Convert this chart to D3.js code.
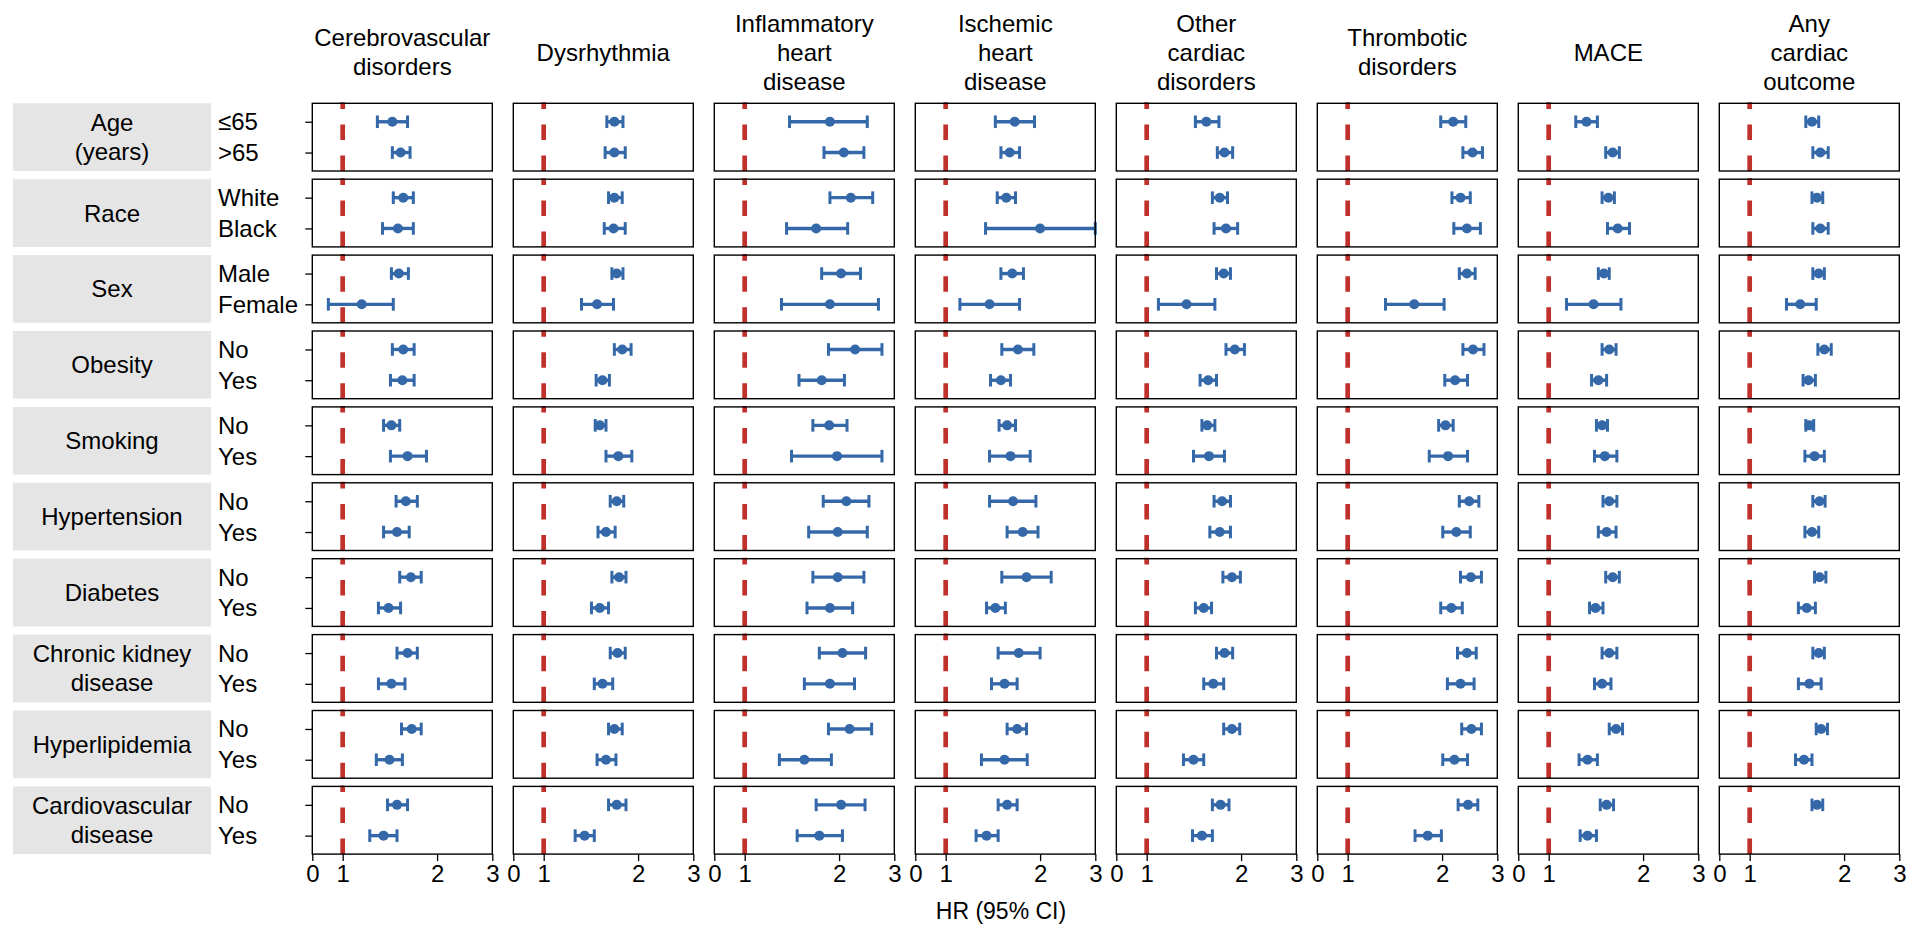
<!DOCTYPE html>
<html>
<head>
<meta charset="utf-8">
<script src="https://cdn.jsdelivr.net/npm/d3@7"></script>
<style>
  body { margin: 0; background: #fff; }
  svg text { font-family: "Liberation Sans", Arial, sans-serif; fill: #000; }
</style>
</head>
<body>
<svg id="chart"></svg>
<script>
// outcomes (columns), title lines
const outcomes = ["Cerebrovascular disorders", "Dysrhythmia", "Inflammatory heart disease", "Ischemic heart disease",
  "Other cardiac disorders", "Thrombotic disorders", "MACE", "Any cardiac outcome"];
const outcomeLines = [["Cerebrovascular", "disorders"], ["Dysrhythmia"], ["Inflammatory", "heart", "disease"],
  ["Ischemic", "heart", "disease"], ["Other", "cardiac", "disorders"], ["Thrombotic", "disorders"], ["MACE"],
  ["Any", "cardiac", "outcome"]];

// subgroups (rows) and their levels
const groups = ["Age", "Race", "Sex", "Obesity", "Smoking", "Hypertension", "Diabetes", "Chronic kidney disease",
  "Hyperlipidemia", "Cardiovascular disease"];
const groupLines = [["Age", "(years)"], ["Race"], ["Sex"], ["Obesity"], ["Smoking"], ["Hypertension"], ["Diabetes"],
  ["Chronic kidney", "disease"], ["Hyperlipidemia"], ["Cardiovascular", "disease"]];
const levels = [["≤65", ">65"], ["White", "Black"], ["Male", "Female"], ["No", "Yes"], ["No", "Yes"], ["No", "Yes"],
  ["No", "Yes"], ["No", "Yes"], ["No", "Yes"], ["No", "Yes"]];

// HR, lower, upper — 20 rows per outcome in group/level order
const cerebrovascular = [[1.44,1.29,1.61],[1.53,1.44,1.64],[1.56,1.45,1.68],[1.50,1.34,1.68],[1.51,1.43,1.62],[1.15,0.90,1.45],
  [1.56,1.44,1.69],[1.55,1.42,1.69],[1.43,1.35,1.52],[1.61,1.42,1.85],[1.59,1.48,1.73],[1.49,1.35,1.63],[1.65,1.52,1.78],
  [1.40,1.30,1.53],[1.61,1.49,1.73],[1.43,1.30,1.58],[1.66,1.54,1.78],[1.41,1.28,1.55],[1.49,1.39,1.61],[1.35,1.22,1.49]];
const dysrhythmia = [[1.68,1.59,1.79],[1.68,1.57,1.82],[1.68,1.61,1.78],[1.67,1.56,1.82],[1.71,1.65,1.79],[1.48,1.32,1.67],
  [1.78,1.68,1.90],[1.54,1.47,1.62],[1.51,1.46,1.58],[1.73,1.58,1.91],[1.71,1.63,1.80],[1.58,1.49,1.69],[1.74,1.65,1.83],
  [1.51,1.42,1.61],[1.72,1.63,1.82],[1.54,1.45,1.66],[1.68,1.61,1.78],[1.58,1.48,1.70],[1.71,1.61,1.83],[1.35,1.26,1.45]];
const inflammatory = [[1.87,1.39,2.46],[2.07,1.79,2.40],[2.18,1.87,2.56],[1.69,1.36,2.13],[2.03,1.76,2.34],[1.87,1.31,2.67],
  [2.25,1.85,2.74],[1.76,1.49,2.08],[1.86,1.65,2.12],[1.97,1.41,2.74],[2.11,1.78,2.49],[1.98,1.60,2.46],[1.98,1.65,2.40],
  [1.87,1.58,2.21],[2.05,1.73,2.43],[1.87,1.55,2.24],[2.16,1.85,2.54],[1.55,1.29,1.89],[2.03,1.69,2.42],[1.73,1.47,2.05]];
const ischemic = [[1.66,1.44,1.92],[1.60,1.50,1.72],[1.56,1.46,1.67],[2.00,1.34,3.00],[1.63,1.50,1.77],[1.38,1.11,1.72],
  [1.70,1.51,1.91],[1.50,1.39,1.61],[1.57,1.48,1.67],[1.61,1.38,1.86],[1.64,1.38,1.94],[1.76,1.57,1.97],[1.81,1.51,2.17],
  [1.44,1.35,1.55],[1.71,1.47,2.00],[1.54,1.40,1.69],[1.69,1.57,1.81],[1.54,1.30,1.82],[1.57,1.47,1.69],[1.35,1.25,1.47]];
const otherCardiac = [[1.55,1.43,1.70],[1.77,1.68,1.88],[1.71,1.62,1.81],[1.79,1.64,1.95],[1.76,1.67,1.85],[1.34,1.09,1.65],
  [1.91,1.79,2.05],[1.57,1.48,1.67],[1.56,1.50,1.65],[1.58,1.41,1.77],[1.74,1.64,1.85],[1.71,1.59,1.85],[1.87,1.75,1.99],
  [1.52,1.43,1.61],[1.77,1.67,1.88],[1.63,1.52,1.76],[1.87,1.76,1.98],[1.41,1.31,1.52],[1.72,1.62,1.83],[1.50,1.40,1.62]];
const thrombotic = [[2.17,1.98,2.38],[2.50,2.33,2.69],[2.29,2.15,2.46],[2.40,2.18,2.65],[2.40,2.27,2.55],[1.63,1.32,2.03],
  [2.51,2.33,2.72],[2.20,2.04,2.41],[2.05,1.95,2.17],[2.09,1.82,2.41],[2.44,2.27,2.62],[2.22,2.01,2.46],[2.47,2.29,2.67],
  [2.14,1.98,2.32],[2.40,2.24,2.57],[2.29,2.08,2.53],[2.48,2.31,2.67],[2.19,2.01,2.41],[2.42,2.25,2.60],[1.80,1.64,1.99]];
const mace = [[1.32,1.22,1.43],[1.60,1.52,1.68],[1.55,1.48,1.62],[1.66,1.54,1.81],[1.50,1.44,1.56],[1.39,1.14,1.70],
  [1.56,1.48,1.64],[1.44,1.37,1.53],[1.48,1.42,1.54],[1.51,1.40,1.65],[1.56,1.49,1.65],[1.53,1.44,1.64],[1.60,1.52,1.68],
  [1.41,1.35,1.49],[1.56,1.48,1.65],[1.48,1.40,1.58],[1.64,1.56,1.72],[1.33,1.25,1.43],[1.53,1.46,1.61],[1.33,1.26,1.42]];
const anyCardiac = [[1.58,1.51,1.66],[1.68,1.59,1.78],[1.64,1.58,1.71],[1.68,1.59,1.78],[1.66,1.59,1.73],[1.45,1.31,1.63],
  [1.73,1.65,1.82],[1.54,1.48,1.62],[1.55,1.51,1.60],[1.61,1.50,1.73],[1.67,1.59,1.74],[1.58,1.50,1.66],[1.67,1.61,1.75],
  [1.52,1.43,1.62],[1.66,1.59,1.73],[1.55,1.43,1.69],[1.69,1.63,1.77],[1.49,1.40,1.58],[1.64,1.58,1.71],null];

const xTicks = [0.8, 1, 2, 3];
const xTickLabels = ["0", "1", "2", "3"];

const allSeries = [cerebrovascular, dysrhythmia, inflammatory, ischemic, otherCardiac, thrombotic, mace, anyCardiac];

const W = 1912, H = 938;
const blue = "#3468a8", red = "#c1312b";

const svg = d3.select("#chart").attr("width", W).attr("height", H);

// panel grid
const colScale = d3.scaleBand().domain(outcomes).range([312.3, 312.3 + 201 * 8 - 21]).paddingInner(21 / 201);
const rowScale = d3.scaleBand().domain(groups).range([103.3, 103.3 + 75.9 * 10 - 8.2]).paddingInner(8.2 / 75.9);
const pw = colScale.bandwidth(), ph = rowScale.bandwidth();

const x = d3.scaleLog().domain([0.8, 3]).range([0, pw]);

// row strips on the left
const strips = svg.append("g").selectAll("g")
  .data(groups)
  .enter()
  .append("g")
  .attr("transform", d => `translate(0,${rowScale(d)})`);

strips.append("rect")
  .attr("x", 13).attr("y", 0)
  .attr("width", 198).attr("height", ph)
  .attr("fill", "#e5e5e5");

strips.each(function(d, i) {
  const lines = groupLines[i];
  const t = d3.select(this).append("text")
    .attr("text-anchor", "middle")
    .attr("font-size", 24);
  lines.forEach((l, j) => {
    t.append("tspan")
      .attr("x", 112)
      .attr("y", ph / 2 + (j - (lines.length - 1) / 2) * 29)
      .attr("dominant-baseline", "central")
      .text(l);
  });
  const y = d3.scalePoint().domain(levels[i]).range([0, ph]).padding(0.6);
  d3.select(this).selectAll("text.lvl")
    .data(levels[i])
    .enter()
    .append("text")
    .attr("class", "lvl")
    .attr("x", 218)
    .attr("y", v => y(v))
    .attr("dominant-baseline", "central")
    .attr("font-size", 24)
    .text(v => v);
  // y ticks on the first column
  d3.select(this).append("g")
    .attr("transform", `translate(${colScale(outcomes[0])},0)`)
    .call(d3.axisLeft(y).tickSize(7).tickFormat(""))
    .call(g => g.select(".domain").remove())
    .selectAll("line").attr("stroke", "#000").attr("stroke-width", 1.3);
});

// column titles
outcomes.forEach((o, c) => {
  const lines = outcomeLines[c];
  const t = svg.append("text")
    .attr("text-anchor", "middle")
    .attr("font-size", 24);
  lines.forEach((l, j) => {
    t.append("tspan")
      .attr("x", colScale(o) + pw / 2)
      .attr("y", 52 + (j - (lines.length - 1) / 2) * 29)
      .attr("dominant-baseline", "central")
      .text(l);
  });
});

// panels
outcomes.forEach((o, c) => {
  groups.forEach((gname, r) => {
    const g = svg.append("g")
      .attr("transform", `translate(${colScale(o)},${rowScale(gname)})`);
    const y = d3.scalePoint().domain(levels[r]).range([0, ph]).padding(0.6);

    // reference line at HR = 1, dashes start from the bottom
    g.append("line")
      .attr("x1", x(1)).attr("x2", x(1))
      .attr("y1", ph).attr("y2", -1)
      .attr("stroke", red).attr("stroke-width", 4.7)
      .attr("stroke-dasharray", "15.5,15.5");

    const rows = levels[r].map((lv, k) => ({ lv: lv, v: allSeries[c][r * 2 + k] })).filter(d => d.v);

    const eb = g.selectAll("g.eb")
      .data(rows)
      .enter()
      .append("g")
      .attr("class", "eb")
      .attr("transform", d => `translate(0,${y(d.lv)})`);

    eb.append("line")
      .attr("x1", d => x(d.v[1])).attr("x2", d => x(d.v[2]))
      .attr("stroke", blue).attr("stroke-width", 3.4);
    eb.selectAll("line.cap")
      .data(d => [d.v[1], d.v[2]])
      .enter()
      .append("line")
      .attr("class", "cap")
      .attr("x1", v => x(v)).attr("x2", v => x(v))
      .attr("y1", -6.3).attr("y2", 6.3)
      .attr("stroke", blue).attr("stroke-width", 3);
    eb.append("circle")
      .attr("cx", d => x(d.v[0]))
      .attr("r", 5)
      .attr("fill", blue);

    g.append("rect")
      .attr("width", pw).attr("height", ph)
      .attr("fill", "none").attr("stroke", "#000").attr("stroke-width", 1.4);
  });

  // x axis under the bottom row
  const ax = svg.append("g")
    .attr("transform", `translate(${colScale(o)},${rowScale(groups[groups.length - 1]) + ph})`)
    .call(d3.axisBottom(x).tickValues(xTicks).tickFormat((d, i) => xTickLabels[i]).tickSize(7).tickSizeOuter(0));
  ax.select(".domain").remove();
  ax.selectAll("line").attr("stroke", "#000").attr("stroke-width", 1.3);
  ax.selectAll("text")
    .attr("font-size", 24)
    .attr("font-family", "Liberation Sans, Arial, sans-serif")
    .attr("fill", "#000")
    .attr("y", 11);
});

// axis title
svg.append("text")
  .attr("x", 1001).attr("y", 911)
  .attr("text-anchor", "middle")
  .attr("dominant-baseline", "central")
  .attr("font-size", 23)
  .text("HR (95% CI)");
</script>
</body>
</html>
